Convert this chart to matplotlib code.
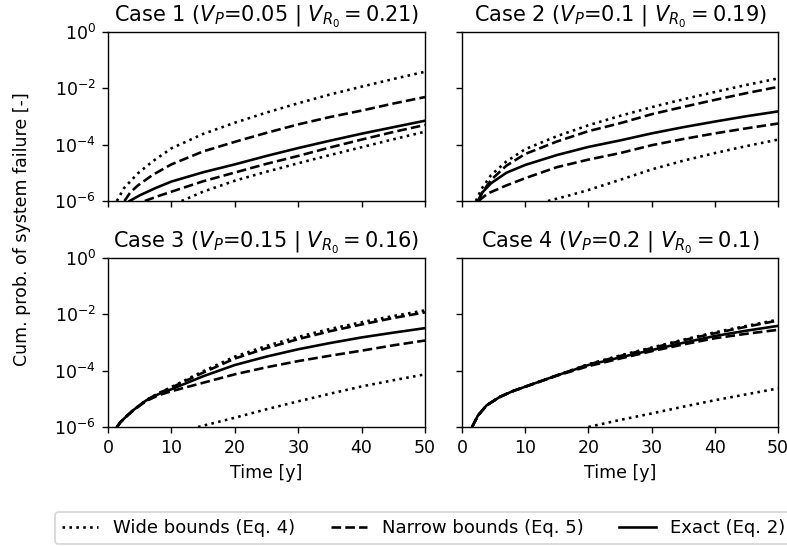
import numpy as np
import matplotlib.pyplot as plt
from matplotlib.ticker import NullLocator

# panel titles
titles = [r"Case 1 ($V_P$=0.05 | $V_{R_0}=0.21$)",
          r"Case 2 ($V_P$=0.1 | $V_{R_0}=0.19$)",
          r"Case 3 ($V_P$=0.15 | $V_{R_0}=0.16$)",
          r"Case 4 ($V_P$=0.2 | $V_{R_0}=0.1$)"]

# time [y] and log10 of the cum. prob. of failure
# case 1
c1_wide_hi_t = [1.4, 2.5, 4.7, 7, 10, 15, 20, 25, 30, 35, 40, 45, 50]
c1_wide_hi = [-6.0, -5.55, -5.02, -4.6, -4.13, -3.62, -3.22, -2.86, -2.53, -2.22, -1.94, -1.67, -1.41]
c1_narrow_hi_t = [2.6, 3.5, 4.7, 7, 10, 15, 20, 25, 30, 35, 40, 45, 50]
c1_narrow_hi = [-6.0, -5.7, -5.45, -5.08, -4.7, -4.24, -3.9, -3.58, -3.28, -3.02, -2.79, -2.54, -2.31]
c1_exact_t = [3.4, 5, 7.4, 10, 15, 20, 25, 30, 35, 40, 45, 50]
c1_exact = [-6.0, -5.8, -5.55, -5.31, -4.98, -4.7, -4.4, -4.12, -3.86, -3.61, -3.38, -3.15]
c1_narrow_lo_t = [5.8, 8, 10, 15, 20, 25, 30, 35, 40, 45, 50]
c1_narrow_lo = [-6.0, -5.82, -5.67, -5.3, -4.99, -4.68, -4.4, -4.1, -3.82, -3.55, -3.3]
c1_wide_lo_t = [11.6, 15, 20, 25, 30, 35, 40, 45, 50]
c1_wide_lo = [-6.0, -5.67, -5.28, -4.96, -4.66, -4.37, -4.09, -3.81, -3.54]

# case 2
c2_wide_hi_t = [2.2, 3, 4.6, 7, 10, 15, 20, 25, 30, 35, 40, 45, 50]
c2_wide_hi = [-6.0, -5.6, -5.08, -4.6, -4.16, -3.7, -3.31, -2.98, -2.67, -2.39, -2.13, -1.88, -1.65]
c2_narrow_hi_t = [2.6, 3.2, 4.6, 7, 10, 15, 20, 25, 30, 35, 40, 45, 50]
c2_narrow_hi = [-6.0, -5.7, -5.25, -4.75, -4.33, -3.89, -3.52, -3.24, -2.92, -2.66, -2.41, -2.17, -1.95]
c2_exact_t = [2.5, 3.2, 4.6, 7, 10, 15, 20, 25, 30, 35, 40, 45, 50]
c2_exact = [-6.0, -5.7, -5.37, -5.0, -4.72, -4.37, -4.08, -3.85, -3.6, -3.38, -3.18, -2.99, -2.82]
c2_narrow_lo_t = [2.6, 4.1, 7, 10, 15, 20, 25, 30, 35, 40, 45, 50]
c2_narrow_lo = [-6.0, -5.73, -5.45, -5.19, -4.8, -4.53, -4.3, -4.02, -3.8, -3.6, -3.42, -3.25]
c2_wide_lo_t = [13.6, 17, 20, 25, 30, 35, 40, 45, 50]
c2_wide_lo = [-6.0, -5.8, -5.61, -5.25, -4.88, -4.57, -4.3, -4.05, -3.82]

# case 3
c3_t = [1.4, 2, 3, 4, 6, 8, 10, 15, 20, 25, 30, 35, 40, 45, 50]
c3_wide_hi = [-6.0, -5.82, -5.6, -5.4, -5.05, -4.8, -4.58, -4.02, -3.5, -3.12, -2.8, -2.52, -2.28, -2.06, -1.86]
c3_narrow_hi = [-6.0, -5.82, -5.6, -5.4, -5.05, -4.8, -4.6, -4.07, -3.57, -3.2, -2.88, -2.6, -2.36, -2.13, -1.93]
c3_exact = [-6.0, -5.82, -5.6, -5.4, -5.06, -4.83, -4.66, -4.2, -3.8, -3.5, -3.24, -3.02, -2.82, -2.65, -2.49]
c3_narrow_lo = [-6.0, -5.82, -5.6, -5.41, -5.08, -4.87, -4.73, -4.43, -4.13, -3.88, -3.66, -3.47, -3.29, -3.1, -2.93]
c3_wide_lo_t = [14.2, 20, 25, 30, 35, 40, 45, 50]
c3_wide_lo = [-6.0, -5.67, -5.37, -5.09, -4.82, -4.56, -4.34, -4.13]

# case 4
c4_t = [1.6, 2.5, 3.9, 6, 8, 10, 15, 20, 25, 30, 35, 40, 45, 50]
c4_wide_hi = [-6.0, -5.6, -5.23, -4.93, -4.73, -4.57, -4.17, -3.77, -3.46, -3.18, -2.9, -2.64, -2.41, -2.19]
c4_narrow_hi = [-6.0, -5.6, -5.23, -4.93, -4.73, -4.57, -4.17, -3.78, -3.48, -3.2, -2.92, -2.67, -2.44, -2.22]
c4_exact = [-6.0, -5.6, -5.23, -4.93, -4.73, -4.57, -4.17, -3.8, -3.53, -3.27, -3.01, -2.77, -2.58, -2.41]
c4_narrow_lo = [-6.0, -5.6, -5.23, -4.93, -4.73, -4.57, -4.18, -3.84, -3.57, -3.31, -3.07, -2.85, -2.69, -2.55]
c4_wide_lo_t = [20, 25, 30, 35, 40, 45, 50]
c4_wide_lo = [-6.0, -5.75, -5.52, -5.28, -5.05, -4.84, -4.63]

# (t, logp) per case, order: wide low, wide high, narrow low, narrow high, exact
cases = [
    [(c1_wide_lo_t, c1_wide_lo), (c1_wide_hi_t, c1_wide_hi),
     (c1_narrow_lo_t, c1_narrow_lo), (c1_narrow_hi_t, c1_narrow_hi),
     (c1_exact_t, c1_exact)],
    [(c2_wide_lo_t, c2_wide_lo), (c2_wide_hi_t, c2_wide_hi),
     (c2_narrow_lo_t, c2_narrow_lo), (c2_narrow_hi_t, c2_narrow_hi),
     (c2_exact_t, c2_exact)],
    [(c3_wide_lo_t, c3_wide_lo), (c3_t, c3_wide_hi),
     (c3_t, c3_narrow_lo), (c3_t, c3_narrow_hi),
     (c3_t, c3_exact)],
    [(c4_wide_lo_t, c4_wide_lo), (c4_t, c4_wide_hi),
     (c4_t, c4_narrow_lo), (c4_t, c4_narrow_hi),
     (c4_t, c4_exact)],
]
styles = [':', ':', '--', '--', '-']
labels = ["Wide bounds (Eq. 4)", None, "Narrow bounds (Eq. 5)", None, "Exact (Eq. 2)"]

W, H = 787, 546
fig = plt.figure(figsize=(W/125, H/125), dpi=125)

# axes boxes in pixels [left, top, right, bottom]
boxes = [[108, 32, 425, 201], [462, 32, 778, 201],
         [108, 258, 425, 427], [462, 258, 778, 427]]

axs = []
for i_ax, (l, t, r, b) in enumerate(boxes):
    ax = fig.add_axes([l/W, 1-b/H, (r-l)/W, (b-t)/H])
    axs.append(ax)

    for i_c, (tt, lp) in enumerate(cases[i_ax]):
        ax.plot(tt, 10**np.array(lp), color='k', linestyle=styles[i_c], lw=1.5,
                label=labels[i_c])

    ax.set_yscale('log')
    ax.set_xlim(0, 50)
    ax.set_ylim(1e-6, 1e0)
    ax.set_yticks([1e-6, 1e-4, 1e-2, 1e0])
    ax.yaxis.set_minor_locator(NullLocator())
    ax.set_xticks(range(0, 51, 10))
    ax.set_title(titles[i_ax])

    if i_ax % 2 == 1:
        ax.tick_params(labelleft=False)
    if i_ax < 2:
        ax.tick_params(labelbottom=False)
    else:
        ax.set_xlabel("Time [y]")

fig.text(22/W, 1-229.5/H, "Cum. prob. of system failure [-]", rotation=90,
         ha='center', va='center')

handles, labs = axs[0].get_legend_handles_labels()
fig.legend(handles, labs, ncol=3, loc='upper left', bbox_to_anchor=(55/W, 1-512/H),
           borderaxespad=0, fontsize=10.4)

plt.savefig("out.png", dpi=125)
